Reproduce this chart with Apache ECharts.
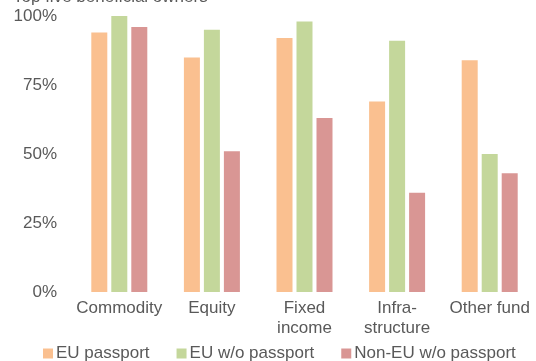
<!DOCTYPE html>
<html><head><meta charset="utf-8">
<script src="https://cdn.jsdelivr.net/npm/echarts@6/dist/echarts.min.js"></script>
<style>html,body{margin:0;padding:0;background:#fff}#c{width:536px;height:361px}</style>
</head><body><div id="c"></div>
<script>
var categories = ['Commodity', 'Equity', 'Fixed\nincome', 'Infra-\nstructure', 'Other fund'];
var seriesNames = ['EU passport', 'EU w/o passport', 'Non-EU w/o passport'];
var euPassport = [94, 85, 92, 69, 84];
var euNoPassport = [100, 95, 98, 91, 50];
var nonEuNoPassport = [96, 51, 63, 36, 43];
var yTicks = [0, 25, 50, 75, 100];
var colors = ['#FAC090', '#C4D79B', '#D99694'];

var font = 'Liberation Sans, Arial, sans-serif';
var txt = '#595959';
var chart = echarts.init(document.getElementById('c'));
var data = [euPassport, euNoPassport, nonEuNoPassport];
chart.setOption({
  animation: false,
  title: { text: 'Top five beneficial owners', left: 8, top: -16.5,
    textStyle: { fontFamily: font, fontSize: 17, fontWeight: 'normal', color: txt } },
  grid: { left: 73, right: -5, top: 16, bottom: 69, containLabel: false },
  legend: { left: 38, top: 340, itemWidth: 10, itemHeight: 10, itemGap: 27,
    icon: 'rect', data: seriesNames,
    textStyle: { fontFamily: font, fontSize: 17, color: txt, padding: [0,0,0,-2] } },
  xAxis: { type: 'category', data: categories,
    axisLine: { show: false }, axisTick: { show: false },
    axisLabel: { fontFamily: font, fontSize: 17, color: txt, margin: 6, lineHeight: 20, interval: 0 } },
  yAxis: { type: 'value', min: yTicks[0], max: yTicks[yTicks.length-1], interval: 25,
    splitLine: { show: false }, axisLine: { show: false }, axisTick: { show: false },
    axisLabel: { fontFamily: font, fontSize: 17, color: txt, margin: 16,
      formatter: function(v){ return v + '%'; } } },
  series: seriesNames.map(function(n, i){
    return { name: n, type: 'bar', data: data[i], barWidth: 16, barGap: '25%',
      itemStyle: { color: colors[i] } };
  })
});
</script></body></html>
